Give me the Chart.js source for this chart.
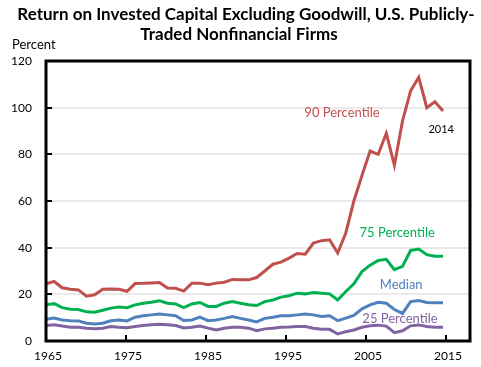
<!DOCTYPE html>
<html>
<head>
<meta charset="utf-8">
<script src="https://cdn.jsdelivr.net/npm/chart.js@4.4.1/dist/chart.umd.min.js"></script>
<style>
  html, body { margin: 0; padding: 0; background: #fff; }
  #wrap { width: 481px; height: 367px; position: relative; }
</style>
</head>
<body>
<div id="wrap"><canvas id="roic"></canvas></div>
<script>
/* ---- data (percent) ---- */
const years = [1965, 1966, 1967, 1968, 1969, 1970, 1971, 1972, 1973, 1974,
  1975, 1976, 1977, 1978, 1979, 1980, 1981, 1982, 1983, 1984,
  1985, 1986, 1987, 1988, 1989, 1990, 1991, 1992, 1993, 1994,
  1995, 1996, 1997, 1998, 1999, 2000, 2001, 2002, 2003, 2004,
  2005, 2006, 2007, 2008, 2009, 2010, 2011, 2012, 2013, 2014];

const p90 = [24.5, 25.5, 22.8, 22.2, 21.9, 19.2, 19.8, 22.2, 22.3, 22.2,
  21.3, 24.6, 24.7, 24.9, 25.1, 22.7, 22.6, 21.4, 24.8, 24.8,
  24.1, 24.8, 25.2, 26.4, 26.2, 26.2, 27.2, 30.0, 32.9, 33.8,
  35.5, 37.5, 37.2, 42.0, 43.0, 43.4, 37.7, 46.3, 60.0, 71.0,
  81.4, 80.0, 89.0, 75.3, 94.3, 107.2, 113.0, 100.0, 102.5, 98.6];

const p75 = [15.5, 16.0, 14.3, 13.6, 13.5, 12.5, 12.3, 13.2, 14.1, 14.6,
  14.3, 15.5, 16.2, 16.6, 17.2, 16.2, 15.9, 14.3, 15.9, 16.5,
  14.8, 14.8, 16.2, 16.9, 16.2, 15.5, 15.2, 16.9, 17.6, 18.8,
  19.4, 20.5, 20.2, 20.8, 20.5, 20.2, 17.6, 21.2, 24.5, 29.8,
  32.5, 34.5, 35.0, 30.6, 32.0, 38.8, 39.4, 37.0, 36.3, 36.3];

const median = [9.3, 9.8, 9.0, 8.7, 8.6, 7.6, 7.3, 7.6, 8.7, 9.0,
  8.6, 10.2, 10.8, 11.2, 11.6, 11.2, 10.8, 8.8, 9.0, 10.2,
  8.7, 9.0, 9.7, 10.5, 9.7, 9.0, 8.2, 9.7, 10.2, 10.8,
  10.8, 11.2, 11.6, 11.2, 10.5, 10.8, 8.7, 9.8, 11.0, 13.8,
  15.5, 16.6, 16.2, 13.5, 11.8, 16.9, 17.3, 16.5, 16.4, 16.4];

const p25 = [6.6, 7.0, 6.4, 5.9, 5.9, 5.5, 5.2, 5.5, 6.2, 5.9,
  5.7, 6.2, 6.6, 7.0, 7.2, 7.0, 6.6, 5.6, 5.9, 6.4,
  5.5, 4.7, 5.5, 5.9, 5.9, 5.5, 4.4, 5.2, 5.5, 5.9,
  6.0, 6.2, 6.2, 5.5, 5.0, 5.0, 3.0, 4.0, 4.7, 5.9,
  6.5, 6.8, 6.4, 3.6, 4.4, 6.5, 6.9, 6.2, 5.9, 5.9];

const yTicks = [0, 20, 40, 60, 80, 100, 120];
const xTicks = [1965, 1975, 1985, 1995, 2005, 2015];

const titleLines = ['Return on Invested Capital Excluding Goodwill, U.S. Publicly-', 'Traded Nonfinancial Firms'];

const COLORS = { p90: '#C0504D', p75: '#00B050', median: '#4F81BD', p25: '#8064A2' };

// series labels placed in axis units
const seriesLabels = [
  { text: '90 Percentile', year: 2002.0, value: 98.0, color: COLORS.p90, size: 13 },
  { text: '75 Percentile', year: 2008.9, value: 46.5, color: COLORS.p75, size: 13 },
  { text: 'Median', year: 2009.4, value: 23.9, color: COLORS.median, size: 13 },
  { text: '25 Percentile', year: 2009.25, value: 9.7, color: COLORS.p25, size: 13 },
  { text: '2014', year: 2014.4, value: 90.8, color: '#000', size: 11 },
];

const FONT = 'Lato, "Open Sans", sans-serif';

function pts(vals) {
  return years.map((yr, i) => ({ x: yr, y: vals[i] }));
}

function line(label, vals, color) {
  return {
    label, data: pts(vals), borderColor: color, backgroundColor: color,
    borderWidth: 3, pointRadius: 0, tension: 0, xAxisID: 'x', yAxisID: 'y',
  };
}

/* title, axis caption, frame, inside tick marks, series labels */
const decor = {
  id: 'decor',
  afterDraw(chart) {
    const { ctx, chartArea: a, scales } = chart;
    ctx.save();
    ctx.fillStyle = '#000';
    ctx.textAlign = 'center';
    ctx.textBaseline = 'alphabetic';
    ctx.font = `bold 17px ${FONT}`;
    ctx.fillText(titleLines[0], 246, 20);
    ctx.fillText(titleLines[1], 239, 40);

    ctx.textAlign = 'left';
    ctx.font = `13px ${FONT}`;
    ctx.fillText('Percent', 12, 49);

    // tick marks inside the plot
    ctx.strokeStyle = '#000';
    ctx.lineWidth = 2;
    ctx.beginPath();
    yTicks.forEach(v => {
      const py = Math.round(scales.y.getPixelForValue(v));
      ctx.moveTo(a.left, py); ctx.lineTo(a.left + 6, py);
    });
    xTicks.forEach(v => {
      const px = Math.round(scales.xt.getPixelForValue(v));
      ctx.moveTo(px, a.bottom); ctx.lineTo(px, a.bottom - 6);
    });
    ctx.stroke();

    ctx.lineWidth = 3;
    ctx.strokeRect(a.left, a.top, a.right - a.left, a.bottom - a.top);

    ctx.textAlign = 'center';
    ctx.textBaseline = 'middle';
    seriesLabels.forEach(l => {
      ctx.fillStyle = l.color;
      ctx.font = `${l.size}px ${FONT}`;
      ctx.fillText(l.text, scales.xt.getPixelForValue(l.year), scales.y.getPixelForValue(l.value));
    });
    ctx.restore();
  }
};

new Chart(document.getElementById('roic'), {
  type: 'line',
  data: {
    datasets: [
      line('25 Percentile', p25, COLORS.p25),
      line('Median', median, COLORS.median),
      line('75 Percentile', p75, COLORS.p75),
      line('90 Percentile', p90, COLORS.p90),
    ]
  },
  options: {
    responsive: true, maintainAspectRatio: false, animation: false,
    layout: { padding: { top: 61, right: 11, left: 0, bottom: 0 } },
    plugins: { legend: { display: false }, tooltip: { enabled: false } },
    scales: {
      x: { type: 'linear', display: false, min: 1965, max: 2017.33 },
      xt: {
        type: 'linear', position: 'bottom', min: 1965, max: 2018,
        afterBuildTicks: s => { s.ticks = xTicks.map(v => ({ value: v })); },
        afterFit: s => { s.height = 26; },
        grid: { display: false, drawTicks: false },
        border: { display: false },
        ticks: { padding: 8, color: '#000', font: { family: FONT, size: 12 }, maxRotation: 0, labelOffset: 2, callback: v => String(v) },
      },
      y: {
        min: 0, max: 120,
        afterBuildTicks: s => { s.ticks = yTicks.map(v => ({ value: v })); },
        afterFit: s => { s.width = 46; },
        grid: { color: '#eaeaea', lineWidth: 2, drawTicks: false },
        border: { display: false },
        ticks: { padding: 14, color: '#000', font: { family: FONT, size: 12 } },
      }
    }
  },
  plugins: [decor]
});
</script>
</body>
</html>
